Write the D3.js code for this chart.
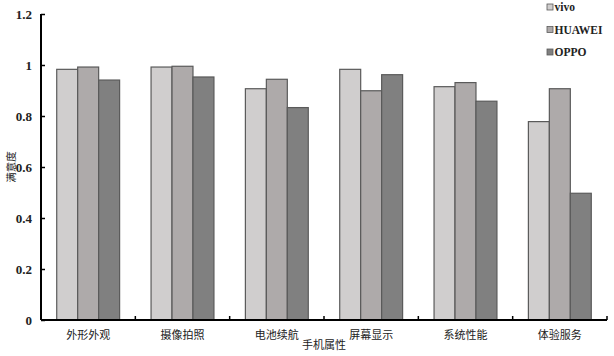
<!DOCTYPE html>
<html>
<head>
<meta charset="utf-8">
<script src="https://cdn.jsdelivr.net/npm/d3@7.9.0/dist/d3.min.js"></script>
<style>
    body { margin: 0; background: #fff; }
    svg { display: block; }
</style>
</head>
<body>
<div id="chart"></div>
<script>
const categories = ["外形外观", "摄像拍照", "电池续航", "屏幕显示", "系统性能", "体验服务"];
const seriesNames = ["vivo", "HUAWEI", "OPPO"];
const vivo = [0.983, 0.992, 0.907, 0.983, 0.915, 0.778];
const huawei = [0.992, 0.995, 0.944, 0.899, 0.931, 0.907];
const oppo = [0.941, 0.953, 0.833, 0.962, 0.858, 0.497];
const yTicks = [0, 0.2, 0.4, 0.6, 0.8, 1, 1.2];
const colors = ["#d0cece", "#aeaaaa", "#808080"];

const width = 614;
const height = 356;
const area = { left: 41, right: 607, top: 14, bottom: 320 };

const svg = d3.select('#chart')
    .append('svg')
    .attr('width', width)
    .attr('height', height);

const xScale = d3.scaleBand()
    .domain(categories)
    .range([area.left, area.right]);
// gap width 150% -> bar = band / 4.5
const xInner = d3.scaleBand()
    .domain(seriesNames)
    .range([0, xScale.bandwidth()])
    .paddingOuter(0.75);
const yScale = d3.scaleLinear().domain([0, 1.2]).range([area.bottom, area.top]);

const rows = categories.map((c, i) => ({ cat: c, values: [vivo[i], huawei[i], oppo[i]] }));

// bars
const groups = svg.append("g").selectAll("g")
    .data(rows)
    .join("g")
    .attr("transform", d => `translate(${xScale(d.cat)},0)`);
groups.selectAll("rect")
    .data(d => d.values.map((v, j) => ({ name: seriesNames[j], v, j })))
    .join("rect")
    .attr("x", d => xInner(d.name))
    .attr("width", xInner.bandwidth())
    .attr("y", d => yScale(d.v))
    .attr("height", d => yScale(0) - yScale(d.v))
    .attr("fill", d => colors[d.j])
    .attr("stroke", "#5a5a5a")
    .attr("stroke-width", 1.2);

// y axis
const yAxis = svg.append("g")
    .attr("transform", `translate(${area.left},0)`)
    .call(d3.axisLeft(yScale).tickValues(yTicks).tickSize(-4).tickPadding(9).tickFormat(d => d3.format("")(d)));
yAxis.select(".domain").attr("stroke", "#000").attr("stroke-width", 2).attr("d", `M0,${area.top}V${area.bottom}`);
yAxis.selectAll(".tick line").attr("stroke", "#000").attr("stroke-width", 1.5);
yAxis.selectAll(".tick text")
    .attr("font-family", "'Liberation Serif', serif")
    .attr("font-size", 13)
    .attr("font-weight", "bold")
    .attr("fill", "#222");

// x axis
const xAxis = svg.append("g")
    .attr("transform", `translate(0,${area.bottom})`)
    .call(d3.axisBottom(xScale).tickSize(0).tickPadding(11));
xAxis.select(".domain").attr("stroke", "#000").attr("stroke-width", 2).attr("d", `M${area.left},0H${area.right}`);
xAxis.selectAll(".tick text")
    .attr("font-family", "'Noto Sans CJK SC', sans-serif")
    .attr("font-size", 11)
    .attr("fill", "#222");
// inside tick marks at band boundaries
svg.append("g").selectAll("line")
    .data(categories.slice(1).concat(["end"]))
    .join("line")
    .attr("x1", d => d === "end" ? area.right : xScale(d))
    .attr("x2", d => d === "end" ? area.right : xScale(d))
    .attr("y1", area.bottom)
    .attr("y2", area.bottom - 4)
    .attr("stroke", "#000")
    .attr("stroke-width", 1.5);

// axis titles
svg.append("text")
    .attr("x", (area.left + area.right) / 2)
    .attr("y", 349)
    .attr("text-anchor", "middle")
    .attr("font-family", "'Noto Sans CJK SC', sans-serif")
    .attr("font-size", 11)
    .attr("fill", "#222")
    .text("手机属性");
svg.append("text")
    .attr("transform", `translate(15,${(area.top + area.bottom) / 2}) rotate(-90)`)
    .attr("text-anchor", "middle")
    .attr("font-family", "'Noto Sans CJK SC', sans-serif")
    .attr("font-size", 10.5)
    .attr("fill", "#222")
    .text("满意度");

// legend
const legend = svg.append("g").selectAll("g")
    .data(seriesNames)
    .join("g")
    .attr("transform", (d, i) => `translate(547,${7 + i * 22.5})`);
legend.append("rect")
    .attr("x", 0).attr("y", -3)
    .attr("width", 6).attr("height", 6)
    .attr("fill", (d, i) => colors[i])
    .attr("stroke", "#5a5a5a")
    .attr("stroke-width", 0.8);
legend.append("text")
    .attr("x", 7.5)
    .attr("y", 4)
    .attr("font-family", "'Liberation Serif', serif")
    .attr("font-size", 11.5)
    .attr("font-weight", "bold")
    .attr("fill", "#222")
    .text(d => d);
</script>
</body>
</html>
